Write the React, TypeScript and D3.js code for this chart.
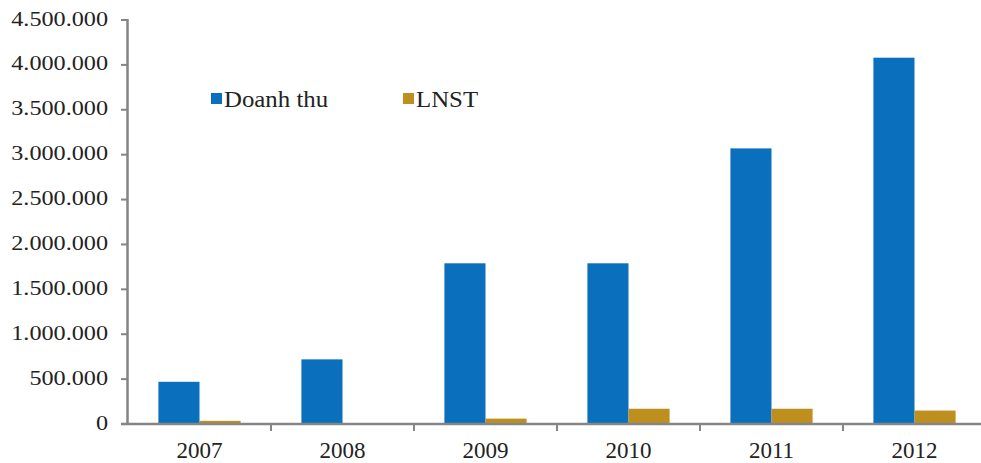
import React from "react";
import * as d3 from "d3";

// Revenue and profit after tax by year
const years = ["2007", "2008", "2009", "2010", "2011", "2012"];
const doanhThu = [470000, 720000, 1790000, 1790000, 3070000, 4080000];
const lnst = [35000, 0, 60000, 170000, 170000, 150000];
const yTicks = [0, 500000, 1000000, 1500000, 2000000, 2500000, 3000000, 3500000, 4000000, 4500000];
const seriesNames = ["Doanh thu", "LNST"];
const seriesColors = ["#0A70BE", "#BE8F1E"];

const W = 981;
const H = 463;
const FONT = "Liberation Serif";

const fmt = (v: number) => d3.format(",")(v).replace(/,/g, ".");

export default function App() {
  const x0 = 128;
  const x1 = 986;
  const yTop = 20;
  const yBase = 424;

  const x = d3.scaleBand<string>().domain(years).range([x0, x1]).paddingInner(0).paddingOuter(0);
  const y = d3.scaleLinear().domain([0, 4500000]).range([yBase, yTop]);
  const inner = d3.scaleBand<number>().domain([0, 1]).range([0, x.bandwidth()]).paddingOuter(0.74).paddingInner(0);

  const series = [doanhThu, lnst];
  const axisColor = "#858585";

  return (
    <svg width={W} height={H} style={{ position: "absolute", left: 0, top: 0, background: "#fff" }}>
      {/* bars */}
      {series.map((vals, si) =>
        vals.map((v, i) => (
          <rect
            key={`${si}-${i}`}
            x={(x(years[i]) as number) + (inner(si) as number)}
            y={y(v)}
            width={inner.bandwidth()}
            height={yBase - y(v)}
            fill={seriesColors[si]}
          />
        ))
      )}

      {/* y axis */}
      <line x1={x0 - 0.5} x2={x0 - 0.5} y1={yTop - 1} y2={yBase + 1} stroke={axisColor} strokeWidth={2.5} />
      {yTicks.map((t) => (
        <g key={t}>
          <line x1={x0 - 7} x2={x0} y1={y(t)} y2={y(t)} stroke={axisColor} strokeWidth={2} />
          <g transform={`translate(108,${y(t) - 2}) scale(1.1,1)`}>
            <text
              x={0}
              y={0}
              textAnchor="end"
              dominantBaseline="central"
              fontFamily={FONT}
              fontSize={22}
              fill="#222"
            >
              {fmt(t)}
            </text>
          </g>
        </g>
      ))}

      {/* x axis */}
      <line x1={x0 - 7} x2={x1} y1={yBase} y2={yBase} stroke={axisColor} strokeWidth={2.5} />
      {years.map((yr, i) => (
        <g key={yr}>
          {i > 0 && (
            <line
              x1={x(yr) as number}
              x2={x(yr) as number}
              y1={yBase}
              y2={yBase + 7}
              stroke={axisColor}
              strokeWidth={2}
            />
          )}
          <text
            x={(x(yr) as number) + x.bandwidth() / 2}
            y={458}
            textAnchor="middle"
            fontFamily={FONT}
            fontSize={23}
            fill="#222"
          >
            {yr}
          </text>
        </g>
      ))}

      {/* legend */}
      {seriesNames.map((name, i) => {
        const lx = i === 0 ? 211 : 403;
        return (
          <g key={name}>
            <rect x={lx} y={93} width={11} height={11} fill={seriesColors[i]} />
            <g transform={`translate(${lx + 13},107) scale(1.08,1)`}>
              <text x={0} y={0} fontFamily={FONT} fontSize={23} fill="#222">
                {name}
              </text>
            </g>
          </g>
        );
      })}
    </svg>
  );
}
